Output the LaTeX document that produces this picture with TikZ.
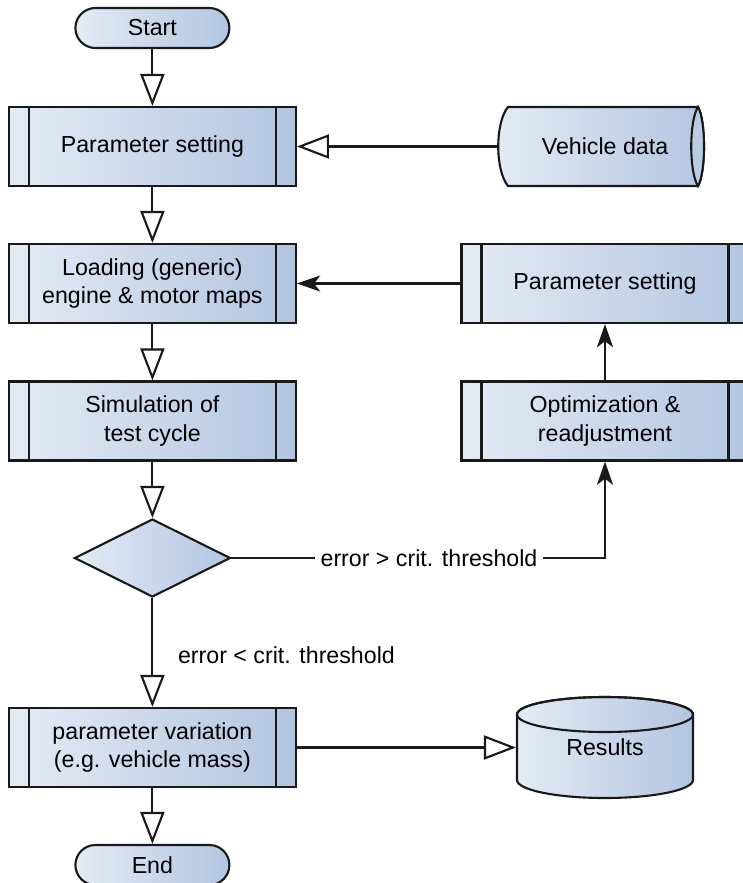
\documentclass[tikz,border=0pt]{standalone}
\usepackage{fontspec}
\setmainfont{Liberation Sans}
\usetikzlibrary{shapes.geometric,arrows.meta}

\definecolor{boxleft}{RGB}{228,235,245}
\definecolor{boxright}{RGB}{178,197,224}
\definecolor{lensfill}{RGB}{186,203,228}

\def \boxwidth {7.175cm}
\def \boxheight {1.975cm}
\def \bandwidth {0.5cm}
\def \leftx {3.81}
\def \rightx {15.125}

\begin{document}
\begin{tikzpicture}[
  font=\fontsize{16.5}{20}\selectfont,
  line width=1.5pt,
  shadebox/.style={draw=black!90, left color=boxleft, right color=boxright},
  procbox/.style={shadebox, rectangle, minimum width=\boxwidth, minimum height=\boxheight, inner sep=0pt, align=center,
    path picture={
      \draw[line width=1.5pt, black!90]
        ([xshift=\bandwidth]path picture bounding box.north west) -- ([xshift=\bandwidth]path picture bounding box.south west)
        ([xshift=-\bandwidth]path picture bounding box.north east) -- ([xshift=-\bandwidth]path picture bounding box.south east);
    }},
  termbox/.style={shadebox, rectangle, rounded corners=0.5cm, minimum width=3.85cm, minimum height=1cm, inner sep=0pt},
  decision/.style={shadebox, diamond, aspect=2, minimum width=3.9cm, minimum height=1.95cm, inner sep=0pt},
  openarrow/.style={draw=black!90, -{Triangle[open, length=0.8cm, width=0.6cm]}},
  fillarrow/.style={draw=black!90, -{Stealth[length=0.58cm, width=0.4cm, inset=0.15cm]}}
]
\useasboundingbox (0,0) rectangle (18.55,-22.075);

% main column
\node[termbox] (start) at (\leftx,-0.7) {Start};
\node[procbox] (setp) at (\leftx,-3.6625) {Parameter setting};
\node[procbox] (load) at (\leftx,-7.0875) {Loading (generic)\\engine \& motor maps};
\node[procbox] (sim) at (\leftx,-10.525) {Simulation of\\test cycle};
\node[decision] (check) at (\leftx,-13.95) {};
\node[procbox] (vary) at (\leftx,-18.6875) {parameter variation\\(e.g. vehicle mass)};
\node[termbox] (end) at (\leftx,-21.625) {End};

% right column
\node[procbox] (reset) at (\rightx,-7.0875) {Parameter setting};
\node[procbox] (opt) at (\rightx,-10.525) {Optimization \&\\readjustment};

% vehicle data store
\coordinate (vdc) at (\rightx,-3.6625);
\begin{scope}[shift={(vdc)}]
\draw[shadebox] (-2.425,0.9875) -- (2.325,0.9875) .. controls (2.525,0.65) and (2.525,-0.65) .. (2.325,-0.9875)
  -- (-2.425,-0.9875) .. controls (-2.75,-0.6) and (-2.75,0.6) .. (-2.425,0.9875) -- cycle;
\draw[draw=black!90, fill=lensfill] (2.325,0.9875) .. controls (2.525,0.65) and (2.525,-0.65) .. (2.325,-0.9875)
  .. controls (2.1,-0.65) and (2.1,0.65) .. (2.325,0.9875) -- cycle;
\end{scope}
\node[minimum width=5.35cm, minimum height=\boxheight, inner sep=0pt] (vdata) at (vdc) {Vehicle data};

% results cylinder
\coordinate (resc) at (\rightx,-18.6875);
\begin{scope}[shift={(resc)}]
\draw[shadebox] (-2.2,0.825) -- (-2.2,-0.8125) arc[start angle=180, end angle=360, x radius=2.2, y radius=0.45]
  -- (2.2,0.825) arc[start angle=0, end angle=180, x radius=2.2, y radius=0.4375] -- cycle;
\draw[draw=black!90] (0,0.825) ellipse[x radius=2.2, y radius=0.4375];
\end{scope}
\node[minimum width=4.4cm, inner sep=0pt] (res) at (resc) {Results};

% branch labels
\node[inner sep=3pt] (upper) at (10.725,-13.95) {error > crit. threshold};
\node[anchor=west, inner sep=0pt] (lower) at (4.425,-16.375) {error < crit. threshold};

% connectors
\draw[openarrow] (start) -- (setp);
\draw[openarrow] (vdata.west) -- (setp.east);
\draw[openarrow] (setp) -- (load);
\draw[fillarrow] (reset.west) -- (load.east);
\draw[openarrow] (load) -- (sim);
\draw[fillarrow] (opt) -- (reset);
\draw[openarrow] (sim) -- (check);
\draw[draw=black!90] (check.east) -- (upper.west);
\draw[fillarrow] (upper.east) -- (upper.east -| opt.south) -- (opt.south);
\draw[openarrow] (check) -- (vary);
\draw[openarrow] (vary.east) -- (res.west);
\draw[openarrow] (vary) -- (end);
\end{tikzpicture}
\end{document}
